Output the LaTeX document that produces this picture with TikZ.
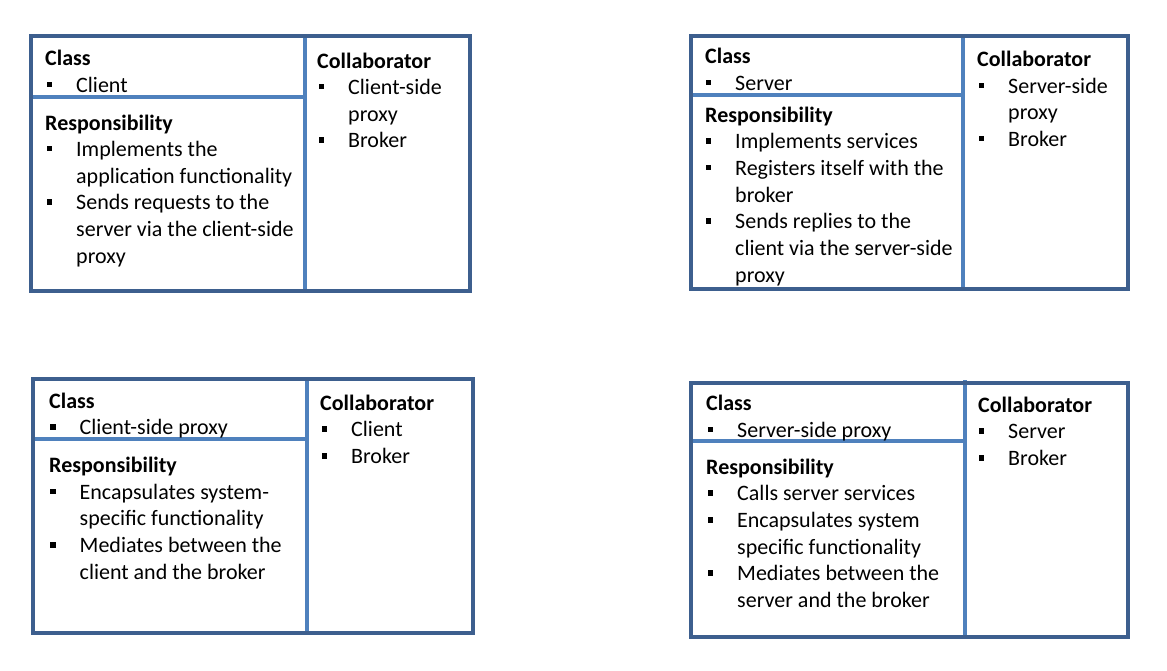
\documentclass[tikz,border=0pt]{standalone}
\usepackage{fontspec}
\setmainfont{Carlito}
\definecolor{outerblue}{HTML}{3D5F8E}
\definecolor{innerblue}{HTML}{4F81BD}
\tikzset{
  outerline/.style={draw=outerblue, line width=3.6pt},
  innerline/.style={draw=innerblue, line width=3.2pt},
  txt/.style={anchor=base west, inner sep=0pt, yshift=-1.5pt, font=\fontsize{22}{26}\selectfont},
  hdr/.style={txt, font=\fontsize{22}{26}\selectfont\bfseries},
  bul/.style={fill=black, inner sep=0pt, minimum size=5.6pt, rectangle, yshift=-1.5pt}
}
\newcommand\crcbul[4]{%
  \node[bul] (#1b) at (#2-26.5,#3-7.8) {};
  \node[txt] (#1) at (#2,#3) {#4};}
\newcommand\crctxt[4]{\node[txt] (#1) at (#2,#3) {#4};}
\newcommand\crchdr[4]{\node[hdr] (#1) at (#2,#3) {#4};}
\begin{document}
\begin{tikzpicture}[x=1pt,y=-1pt]
\useasboundingbox[fill=white] (0,0) rectangle (1167,671);
% ---------------- Card 1: Client ----------------
\draw[innerline] (305,36) -- (305,291);
\draw[innerline] (31,97) -- (305,97);
\draw[outerline] (31,36) rectangle (470,291);
\crchdr{c1cls}{45}{64}{Class}
\crcbul{c1c}{76}{91}{Client}
\crchdr{c1res}{45}{129}{Responsibility}
\crcbul{c1r1}{76}{155}{Implements the}
\crctxt{c1r1b}{76}{181.7}{application functionality}
\crcbul{c1r2}{76}{208.4}{Sends requests to the}
\crctxt{c1r2b}{76}{235}{server via the client-side}
\crctxt{c1r2c}{76}{261.7}{proxy}
\crchdr{c1col}{317}{66.7}{Collaborator}
\crcbul{c1k1}{348}{93}{Client-side}
\crctxt{c1k1b}{348}{119.7}{proxy}
\crcbul{c1k2}{348}{146.4}{Broker}
% ---------------- Card 2: Server ----------------
\draw[innerline] (963,36) -- (963,289);
\draw[innerline] (691,95) -- (963,95);
\draw[outerline] (691,36) rectangle (1128,289);
\crchdr{c2cls}{705}{62.3}{Class}
\crcbul{c2c}{735}{89}{Server}
\crchdr{c2res}{705}{120.7}{Responsibility}
\crcbul{c2r1}{735}{147.3}{Implements services}
\crcbul{c2r2}{735}{174}{Registers itself with the}
\crctxt{c2r2b}{735}{200.7}{broker}
\crcbul{c2r3}{735}{227.3}{Sends replies to the}
\crctxt{c2r3b}{735}{254}{client via the server-side}
\crctxt{c2r3c}{735}{280.7}{proxy}
\crchdr{c2col}{977}{65}{Collaborator}
\crcbul{c2k1}{1008}{91.7}{Server-side}
\crctxt{c2k1b}{1008}{118.3}{proxy}
\crcbul{c2k2}{1008}{145}{Broker}
% ---------------- Card 3: Client-side proxy ----------------
\draw[innerline] (307,379) -- (307,633);
\draw[innerline] (33,439) -- (307,439);
\draw[outerline] (33,379) rectangle (473,633);
\crchdr{c3cls}{49}{406.7}{Class}
\crcbul{c3c}{79.5}{433.3}{Client-side proxy}
\crchdr{c3res}{49}{471}{Responsibility}
\crcbul{c3r1}{79.5}{497.7}{Encapsulates system-}
\crctxt{c3r1b}{79.5}{524.3}{specific functionality}
\crcbul{c3r2}{79.5}{551}{Mediates between the}
\crctxt{c3r2b}{79.5}{577.7}{client and the broker}
\crchdr{c3col}{320}{409}{Collaborator}
\crcbul{c3k1}{351}{435.3}{Client}
\crcbul{c3k2}{351}{462}{Broker}
% ---------------- Card 4: Server-side proxy ----------------
\draw[innerline] (965,380) -- (965,637);
\draw[innerline] (691,441) -- (965,441);
\draw[outerline] (691,383) rectangle (1128,637);
\crchdr{c4cls}{706}{409}{Class}
\crcbul{c4c}{737}{435.7}{Server-side proxy}
\crchdr{c4res}{706}{472.7}{Responsibility}
\crcbul{c4r1}{737}{499.3}{Calls server services}
\crcbul{c4r2}{737}{526}{Encapsulates system}
\crctxt{c4r2b}{737}{552.7}{specific functionality}
\crcbul{c4r3}{737}{579.3}{Mediates between the}
\crctxt{c4r3b}{737}{606}{server and the broker}
\crchdr{c4col}{978}{410.7}{Collaborator}
\crcbul{c4k1}{1008}{437.3}{Server}
\crcbul{c4k2}{1008}{464}{Broker}
\end{tikzpicture}
\end{document}
